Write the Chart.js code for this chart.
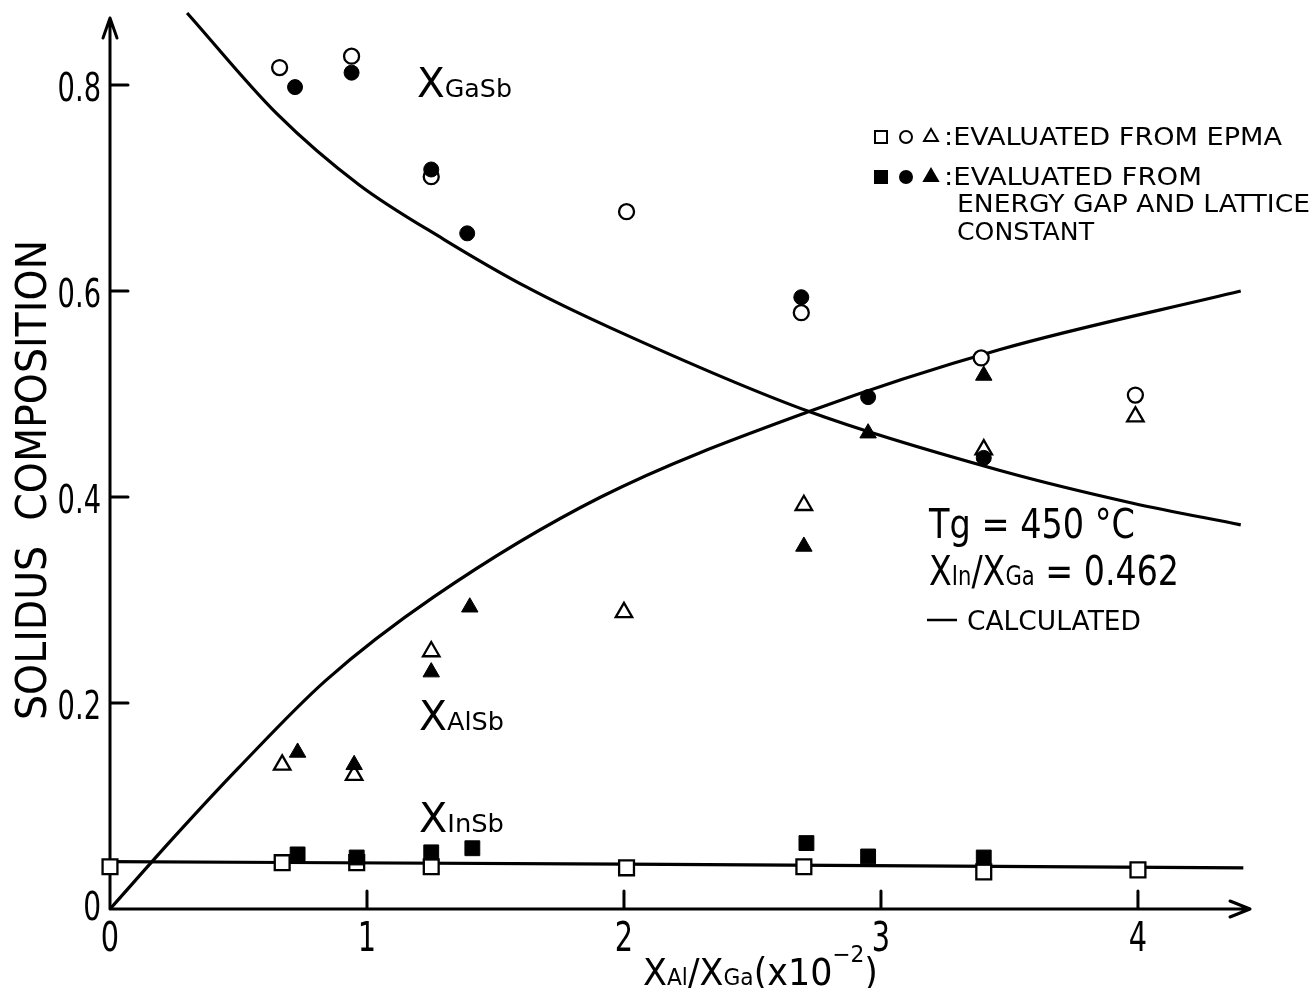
<!DOCTYPE html>
<html>
<head>
<meta charset="utf-8">
<title>Solidus composition</title>
<script src="https://cdn.jsdelivr.net/npm/chart.js@4.4.1/dist/chart.umd.min.js"></script>
<style>
  html, body { margin: 0; padding: 0; background: #fff; }
  #wrap { width: 1313px; height: 988px; position: relative; }
</style>
</head>
<body>
<div id="wrap"><canvas id="myChart"></canvas></div>
<script>
// x axis is XAl/XGa in units of 1e-2
var xTicks = [0, 1, 2, 3, 4];
var yTicks = [0, 0.2, 0.4, 0.6, 0.8];

// open marks: EPMA, filled marks: energy gap and lattice constant
var gasbEpmaX = [0.66, 0.94, 1.25, 2.01, 2.69, 3.39, 3.99];
var gasbEpmaY = [0.817, 0.828, 0.711, 0.677, 0.579, 0.535, 0.499];
var gasbGapX = [0.72, 0.94, 1.25, 1.39, 2.69, 2.95, 3.40];
var gasbGapY = [0.798, 0.812, 0.718, 0.656, 0.594, 0.497, 0.438];

var alsbEpmaX = [0.67, 0.95, 1.25, 2.00, 2.70, 3.40, 3.99];
var alsbEpmaY = [0.140, 0.130, 0.250, 0.288, 0.392, 0.446, 0.478];
var alsbGapX = [0.73, 0.95, 1.25, 1.40, 2.70, 2.95, 3.40];
var alsbGapY = [0.152, 0.140, 0.230, 0.293, 0.352, 0.462, 0.518];

var insbEpmaX = [0, 0.67, 0.96, 1.25, 2.01, 2.70, 3.40, 4.00];
var insbEpmaY = [0.041, 0.045, 0.045, 0.041, 0.040, 0.041, 0.036, 0.038];
var insbGapX = [0.73, 0.96, 1.25, 1.41, 2.71, 2.95, 3.40];
var insbGapY = [0.053, 0.050, 0.055, 0.059, 0.064, 0.051, 0.050];

// calculated curves
var calcGasbX = [0.30, 0.65, 0.97, 1.30, 1.62, 1.95, 2.72, 3.46, 3.98, 4.40];
var calcGasbY = [0.870, 0.772, 0.703, 0.650, 0.604, 0.564, 0.483, 0.426, 0.394, 0.373];
var calcAlsbX = [0, 0.25, 0.50, 0.84, 1.26, 1.91, 2.72, 3.46, 4.40];
var calcAlsbY = [0, 0.070, 0.137, 0.222, 0.303, 0.400, 0.483, 0.543, 0.600];
var calcInsbX = [0, 2.0, 4.41];
var calcInsbY = [0.046, 0.0435, 0.040];

var FONT = '"DejaVu Sans", "Liberation Sans", sans-serif';

function pts(xs, ys) {
    return xs.map(function (x, i) { return { x: x, y: ys[i] }; });
}

// draws a run of text pieces [text, size, rise] on one baseline,
// squeezed to a given width (w) or by a fixed factor (k)
function textRun(ctx, parts, x, y, opt) {
    var total = 0;
    parts.forEach(function (p) {
        ctx.font = p[1] + 'px ' + FONT;
        p.w = ctx.measureText(p[0]).width;
        total += p.w;
    });
    var k = opt.w ? opt.w / total : (opt.k || 1);
    var start = 0;
    if (opt.align === 'center') start = -total / 2;
    if (opt.align === 'right') start = -total;
    ctx.save();
    ctx.translate(x, y);
    if (opt.rotate) ctx.rotate(opt.rotate);
    ctx.scale(k, 1);
    ctx.textBaseline = 'alphabetic';
    ctx.textAlign = 'left';
    var cx = start;
    parts.forEach(function (p) {
        ctx.font = p[1] + 'px ' + FONT;
        ctx.fillText(p[0], cx, -(p[2] || 0));
        cx += p.w;
    });
    ctx.restore();
}

function openMark(style, r) {
    return { pointStyle: style, pointRadius: r, pointBackgroundColor: '#fff', pointBorderColor: '#000', pointBorderWidth: 2.3, showLine: false, clip: false };
}
function filledMark(style, r) {
    return { pointStyle: style, pointRadius: r, pointBackgroundColor: '#000', pointBorderColor: '#000', pointBorderWidth: 1, showLine: false, clip: false };
}
function curve(data) {
    return { data: data, showLine: true, pointRadius: 0, borderColor: '#000', borderWidth: 3.2, cubicInterpolationMode: 'monotone', clip: false };
}

var axesPlugin = {
    id: 'axes',
    beforeDatasetsDraw: function (chart) {
        var ctx = chart.ctx, xs = chart.scales.x, ys = chart.scales.y;
        var x0 = xs.getPixelForValue(0), y0 = ys.getPixelForValue(0);
        var top = chart.chartArea.top, right = chart.chartArea.right;
        ctx.save();
        ctx.strokeStyle = '#000';
        ctx.fillStyle = '#000';
        ctx.lineWidth = 3;
        ctx.lineCap = 'round';
        ctx.lineJoin = 'round';
        ctx.beginPath();
        ctx.moveTo(x0, y0); ctx.lineTo(x0, top + 3);
        ctx.moveTo(x0, y0); ctx.lineTo(right, y0);
        ctx.moveTo(x0 - 7, top + 23); ctx.lineTo(x0, top + 3); ctx.lineTo(x0 + 7, top + 23);
        ctx.moveTo(right - 20, y0 - 8); ctx.lineTo(right, y0); ctx.lineTo(right - 20, y0 + 8);
        yTicks.forEach(function (v) {
            if (!v) return;
            var py = ys.getPixelForValue(v);
            ctx.moveTo(x0, py); ctx.lineTo(x0 + 18, py);
        });
        xTicks.forEach(function (v) {
            if (!v) return;
            var px = xs.getPixelForValue(v);
            ctx.moveTo(px, y0); ctx.lineTo(px, y0 - 18);
        });
        ctx.stroke();

        // tick labels
        yTicks.forEach(function (v) {
            var py = ys.getPixelForValue(v);
            if (!v) {
                textRun(ctx, [['0', 39]], 101, py + 11, { k: 0.72, align: 'right' });
            } else {
                textRun(ctx, [[v.toFixed(1), 39]], 101, py + 16, { k: 0.7, align: 'right' });
            }
        });
        xTicks.forEach(function (v) {
            var px = xs.getPixelForValue(v);
            textRun(ctx, [[String(v), 40]], px, 951, { k: 0.72, align: 'center' });
        });
        ctx.restore();
    },
    afterDraw: function (chart) {
        var ctx = chart.ctx;
        ctx.save();
        ctx.fillStyle = '#000';
        ctx.strokeStyle = '#000';

        // axis titles
        textRun(ctx, [['SOLIDUS  COMPOSITION', 42]], 46, 480, { w: 480, align: 'center', rotate: -Math.PI / 2 });
        textRun(ctx, [['X', 37], ['Al', 23], ['/X', 37], ['Ga', 23], ['(x10', 37], ['\u22122', 23, 23], [')', 37]],
            643, 985, { w: 235 });

        // curve labels
        textRun(ctx, [['X', 40], ['GaSb', 25]], 417, 97, { w: 95 });
        textRun(ctx, [['X', 40], ['AlSb', 25]], 419, 730, { w: 85 });
        textRun(ctx, [['X', 40], ['InSb', 25]], 419, 832, { w: 85 });

        // growth conditions
        textRun(ctx, [['Tg = 450 \u00B0C', 41]], 929, 538, { w: 206 });
        textRun(ctx, [['X', 41], ['In', 26], ['/X', 41], ['Ga', 26], [' = 0.462', 41]], 929, 585, { w: 250 });
        ctx.lineWidth = 2.5;
        ctx.beginPath();
        ctx.moveTo(927, 620); ctx.lineTo(957, 620);
        ctx.stroke();
        textRun(ctx, [['CALCULATED', 27]], 967, 630, { w: 174 });

        // key for the marks
        var keys = [['rect', 8.5, 881], ['circle', 6, 906], ['triangle', 8, 931]];
        keys.forEach(function (m) {
            ctx.lineWidth = 2;
            ctx.fillStyle = '#fff';
            Chart.helpers.drawPoint(ctx, { pointStyle: m[0], radius: m[1], borderWidth: 2, rotation: 0 }, m[2], 137);
            ctx.fillStyle = '#000';
            Chart.helpers.drawPoint(ctx, { pointStyle: m[0], radius: m[1], borderWidth: 1, rotation: 0 }, m[2], 177);
        });
        ctx.fillStyle = '#000';
        textRun(ctx, [[':EVALUATED FROM EPMA', 24]], 944, 145, { w: 338 });
        textRun(ctx, [[':EVALUATED FROM', 24]], 944, 185, { w: 258 });
        textRun(ctx, [['ENERGY GAP AND LATTICE', 24]], 957, 212, { w: 353 });
        textRun(ctx, [['CONSTANT', 24]], 957, 240, { w: 137 });
        ctx.restore();
    }
};

var datasets = [
    Object.assign({ label: 'XGaSb gap', data: pts(gasbGapX, gasbGapY) }, filledMark('circle', 7.5)),
    Object.assign({ label: 'XAlSb gap', data: pts(alsbGapX, alsbGapY) }, filledMark('triangle', 9.5)),
    Object.assign({ label: 'XInSb gap', data: pts(insbGapX, insbGapY) }, filledMark('rect', 10.5)),
    Object.assign({ label: 'XGaSb EPMA', data: pts(gasbEpmaX, gasbEpmaY) }, openMark('circle', 7.5)),
    Object.assign({ label: 'XAlSb EPMA', data: pts(alsbEpmaX, alsbEpmaY) }, openMark('triangle', 9.5)),
    Object.assign({ label: 'XInSb EPMA', data: pts(insbEpmaX, insbEpmaY) }, openMark('rect', 10.5)),
    Object.assign({ label: 'XGaSb calc' }, curve(pts(calcGasbX, calcGasbY))),
    Object.assign({ label: 'XAlSb calc' }, curve(pts(calcAlsbX, calcAlsbY))),
    Object.assign({ label: 'XInSb calc' }, curve(pts(calcInsbX, calcInsbY)))
];

new Chart(document.getElementById('myChart'), {
    type: 'scatter',
    data: { datasets: datasets },
    options: {
        responsive: true,
        maintainAspectRatio: false,
        animation: false,
        events: [],
        layout: { padding: { left: 0, right: 63, top: 15, bottom: 0 } },
        plugins: { legend: { display: false }, tooltip: { enabled: false } },
        scales: {
            x: {
                type: 'linear',
                min: 0,
                max: 4.436,
                grid: { display: false, drawTicks: false },
                border: { display: false },
                ticks: { display: false },
                afterBuildTicks: function (s) { s.ticks = xTicks.map(function (v) { return { value: v }; }); },
                afterFit: function (s) { s.height = 79; }
            },
            y: {
                type: 'linear',
                min: 0,
                max: 0.868,
                grid: { display: false, drawTicks: false },
                border: { display: false },
                ticks: { display: false },
                afterBuildTicks: function (s) { s.ticks = yTicks.map(function (v) { return { value: v }; }); },
                afterFit: function (s) { s.width = 110; }
            }
        }
    },
    plugins: [axesPlugin]
});
</script>
</body>
</html>
